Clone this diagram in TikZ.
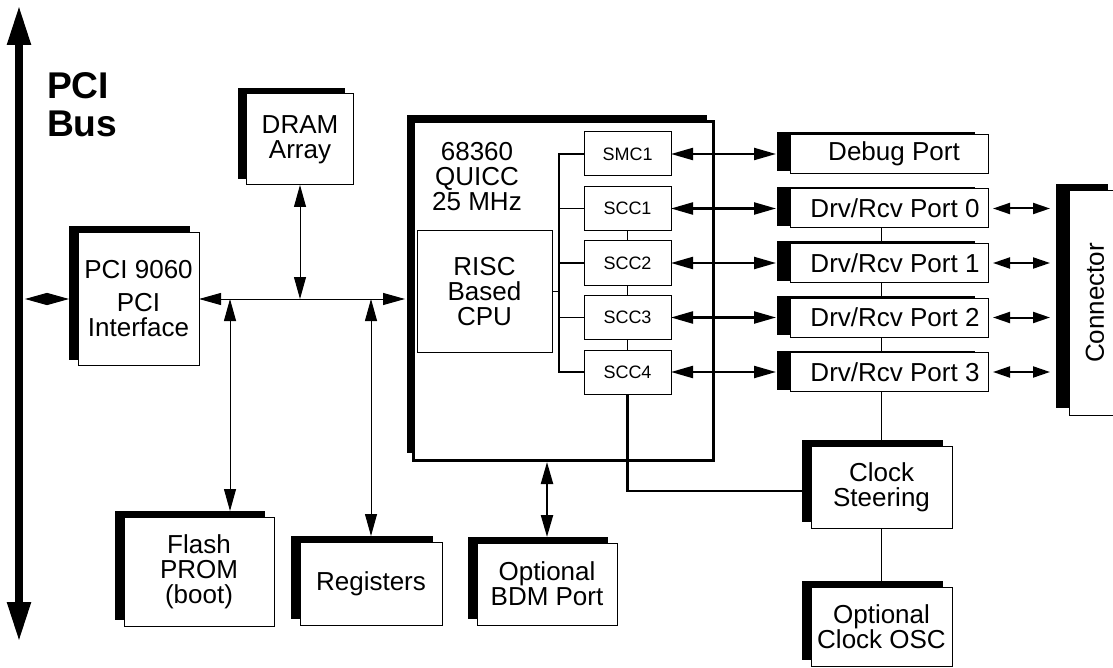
\documentclass[tikz,border=0pt]{standalone}
\usepackage{fontspec}
\setmainfont{Liberation Sans}
\usetikzlibrary{positioning,arrows.meta,shadows}
\newcommand{\lblfont}{\fontsize{13}{12.5}\selectfont}
\newcommand{\chanfont}{\fontsize{9}{10}\selectfont}

\begin{document}
\begin{tikzpicture}[
x=0.5pt,y=-0.5pt,
every node/.style={inner sep=0pt,outer sep=0pt},
unit/.style={
rectangle,draw,fill=white,line width=0.5pt,
align=center,font=\lblfont
},
box/.style={
unit,general shadow={fill=black,shadow xshift=-4.5pt,shadow yshift=3pt}
},
port/.style={
unit,minimum width=99pt,minimum height=19.5pt,
general shadow={fill=black,shadow xshift=-6.5pt,shadow yshift=1pt}
},
chan/.style={unit,font=\chanfont,minimum width=43.5pt,minimum height=22pt},
link/.style={line width=0.7pt},
arr/.style={{Triangle[length=11pt,width=6pt]}-{Triangle[length=11pt,width=6pt]},line width=0.5pt},
tarr/.style={{Triangle[length=11pt,width=6pt]}-{Triangle[length=11pt,width=6pt]},line width=1.1pt},
carr/.style={{Triangle[length=8.5pt,width=5.5pt]}-{Triangle[length=8.5pt,width=5.5pt]},line width=1pt}
]

\useasboundingbox (0,0) rectangle (1113,668);

\coordinate (bustop) at (19,5);
\coordinate (busbot) at (19,642);
\draw[line width=4pt,{Triangle[length=20pt,width=11pt]}-{Triangle[length=20pt,width=11pt]}] (bustop) -- (busbot);

\node[font=\bfseries\fontsize{18.6}{19}\selectfont,align=left,anchor=west] (buslbl) at (47,105) {PCI\\Bus};

\node[box,minimum width=60.5pt,minimum height=66.5pt] (pci) at (138.5,299) {PCI 9060\\[4pt]PCI\\Interface};

\node[box,minimum width=53.5pt,minimum height=45.5pt] (dram) at (300,139.5) {DRAM\\Array};

\node[box,minimum width=75pt,minimum height=54.5pt] (flash) at (199,571.5) {Flash\\PROM\\(boot)};

\node[box,minimum width=71pt,minimum height=41.5pt] (regs) at (371,583.5) {Registers};

\node[box,minimum width=70pt,minimum height=41pt] (bdm) at (547,584) {Optional\\BDM Port};

\node[unit,line width=1.5pt,minimum width=150pt,minimum height=169pt,
general shadow={fill=black,shadow xshift=-3pt,shadow yshift=3.5pt}] (quicc) at (563,291) {};

\node[font=\lblfont,align=center] (qlbl) at (477,177) {68360\\QUICC\\25 MHz};

\node[unit,minimum width=67.5pt,minimum height=60.5pt] (risc) at (484.5,291.5) {RISC\\Based\\CPU};

\node[chan] (smc1) at (627.5,154) {SMC1};
\node[chan,below=5.25pt of smc1] (scc1) {SCC1};
\node[chan,below=5.25pt of scc1] (scc2) {SCC2};
\node[chan,below=5.25pt of scc2] (scc3) {SCC3};
\node[chan,below=5.25pt of scc3] (scc4) {SCC4};

\node[port] (dbg) at (889,154) {\hspace*{5pt}Debug Port};
\node[port,below=7.75pt of dbg] (p0) {\hspace*{6pt}Drv/Rcv Port 0};
\node[port,below=7.75pt of p0] (p1) {\hspace*{6pt}Drv/Rcv Port 1};
\node[port,below=7.75pt of p1] (p2) {\hspace*{6pt}Drv/Rcv Port 2};
\node[port,below=7.75pt of p2] (p3) {\hspace*{6pt}Drv/Rcv Port 3};

\node[box,minimum width=70.5pt,minimum height=41pt] (clk) at (881.5,487) {Clock\\Steering};

\node[box,minimum width=70.5pt,minimum height=39.5pt] (osc) at (881.5,626.5) {Optional\\Clock OSC};

\node[unit,minimum width=26pt,minimum height=112pt,
general shadow={fill=black,shadow xshift=-6.5pt,shadow yshift=3.5pt}] (conn) at (1095,303) {\rotatebox{90}{Connector}};

\coordinate (fj) at (230,299);
\coordinate (rj) at (371,299);
\coordinate (brk) at (559,291.5);

\draw[arr] ([xshift=3pt]bustop |- pci.west) -- ([xshift=-4.5pt]pci.west);
\draw[arr] (pci.east) -- ([xshift=-4pt]quicc.west |- pci.east);
\draw[arr] (dram.south) -- (dram.south |- pci.east);
\draw[arr] (fj) -- ([yshift=3pt]fj |- flash.north);
\draw[arr] (rj) -- ([yshift=3pt]rj |- regs.north);
\draw[tarr] ([yshift=-1pt]bdm.north |- quicc.south) -- ([yshift=3pt]bdm.north);

\draw[link] (risc.east) -- (brk);
\draw[link] (smc1.west) -| (brk |- scc4.west) -- (scc4.west);
\draw[link] (scc1.west) -- (scc1.west -| brk);
\draw[link] (scc2.west) -- (scc2.west -| brk);
\draw[link] (scc3.west) -- (scc3.west -| brk);
\draw[link] (scc1) -- (scc2);
\draw[link] (scc2) -- (scc3);
\draw[link] (scc3) -- (scc4);

\draw[tarr] (smc1.east) -- ([xshift=-7pt]dbg.west);
\draw[tarr] (scc1.east) -- ([xshift=-7pt]p0.west);
\draw[tarr] (scc2.east) -- ([xshift=-7pt]p1.west);
\draw[tarr] (scc3.east) -- ([xshift=-7pt]p2.west);
\draw[tarr] (scc4.east) -- ([xshift=-7pt]p3.west);

\draw[carr] ([xshift=2.5pt]p0.east) -- ([xshift=-9.5pt]p0.east -| conn.west);
\draw[carr] ([xshift=2.5pt]p1.east) -- ([xshift=-9.5pt]p1.east -| conn.west);
\draw[carr] ([xshift=2.5pt]p2.east) -- ([xshift=-9.5pt]p2.east -| conn.west);
\draw[carr] ([xshift=2.5pt]p3.east) -- ([xshift=-9.5pt]p3.east -| conn.west);

\draw[link] (p0.south -| clk.north) -- (p1.north -| clk.north);
\draw[link] (p1.south -| clk.north) -- (p2.north -| clk.north);
\draw[link] (p2.south -| clk.north) -- (p3.north -| clk.north);
\draw[link] (p3.south -| clk.north) -- (clk.north);
\draw[link] (clk) -- (osc);

\draw[line width=1.1pt] (scc4.south) |- ([yshift=-2pt]clk.west);

\end{tikzpicture}
\end{document}
